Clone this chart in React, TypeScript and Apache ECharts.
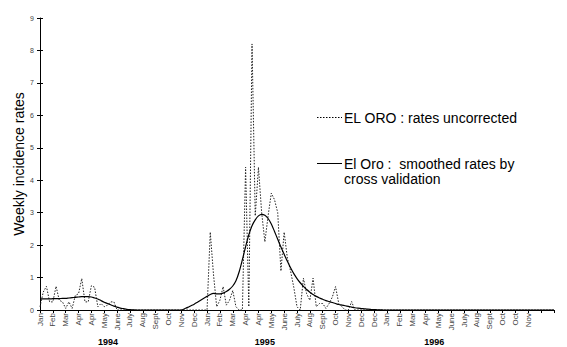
import React, { useEffect, useRef } from "react";
import * as echarts from "echarts";

// tick every 4 weeks, 41 ticks (weeks 0..160)
const tickLabels = [
  "Jan", "Feb", "Mar", "Apr", "Apr", "May", "June", "July", "Aug", "Sept", "Oct", "Nov", "Dec",
  "Jan", "Feb", "Mar", "Apr", "Apr", "May", "June", "July", "Aug", "Sept", "Oct", "Nov", "Dec", "Dec",
  "Jan", "Feb", "Mar", "Apr", "May", "June", "July", "Aug", "Sept", "Oct", "Oct", "Nov", "", "",
];
const yearLabels = ["1994", "1995", "1996"];
const yearCenterWeeks = [21.2, 70, 122.7];

// weekly uncorrected rates (week 0 = Jan 1994)
const uncorrected = [
  0.1, 0.55, 0.73, 0.25, 0.25, 0.73, 0.3, 0.25, 0.05, 0.25,
  0.05, 0.45, 0.5, 0.97, 0.25, 0.25, 0.75, 0.7, 0.1, 0.2,
  0.1, 0.15, 0.25, 0.25, 0, 0, 0, 0, 0, 0,
  0, 0, 0, 0, 0, 0, 0, 0, 0, 0,
  0, 0, 0, 0, 0, 0, 0, 0, 0, 0,
  0, 0, 0, 2.4, 1.1, 0.1, 0.3, 0.72, 0.15, 0.3,
  0.6, 0.1, 0, 0, 4.4, 0.1, 8.2, 2.9, 4.4, 3.0,
  2.1, 2.9, 3.6, 3.4, 3.0, 1.2, 2.4, 1.6, 1.2, 0.7,
  0.1, 0, 0.98, 0.5, 0.3, 0.98, 0.1, 0.2, 0.2, 0.05,
  0.2, 0.4, 0.72, 0.2, 0.1, 0, 0, 0.26, 0, 0,
  0, 0, 0, 0, 0, 0, 0, 0, 0, 0,
  0, 0, 0, 0, 0, 0, 0, 0, 0, 0,
  0, 0, 0, 0, 0, 0, 0, 0, 0, 0,
  0, 0, 0, 0, 0, 0, 0, 0, 0, 0,
  0, 0, 0, 0, 0, 0, 0, 0, 0, 0,
  0, 0, 0, 0, 0, 0, 0, 0, 0, 0,
  0,
];

// smoothed rates by cross validation
const smoothed = [
  0.34, 0.34, 0.34, 0.34, 0.35, 0.35, 0.35, 0.36, 0.36, 0.37,
  0.38, 0.39, 0.40, 0.41, 0.41, 0.41, 0.40, 0.37, 0.34, 0.29,
  0.24, 0.20, 0.16, 0.12, 0.09, 0.06, 0.04, 0.02, 0.01, 0.005,
  0, 0, 0, 0, 0, 0, 0, 0, 0, 0,
  0, 0, 0, 0, 0, 0.04, 0.08, 0.13, 0.18, 0.24,
  0.30, 0.36, 0.42, 0.48, 0.51, 0.50, 0.50, 0.52, 0.57, 0.64,
  0.74, 0.90, 1.18, 1.55, 1.95, 2.32, 2.6, 2.78, 2.9, 2.95,
  2.92, 2.82, 2.65, 2.42, 2.18, 1.94, 1.72, 1.5, 1.3, 1.12,
  0.97, 0.84, 0.73, 0.63, 0.55, 0.48, 0.42, 0.37, 0.33, 0.29,
  0.26, 0.23, 0.2, 0.17, 0.15, 0.13, 0.11, 0.09, 0.07, 0.055,
  0.045, 0.035, 0.025, 0.018, 0.012, 0.007, 0.003, 0, 0, 0,
  0, 0, 0, 0, 0, 0, 0, 0, 0, 0,
  0, 0, 0, 0, 0, 0, 0, 0, 0, 0,
  0, 0, 0, 0, 0, 0, 0, 0, 0, 0,
  0, 0, 0, 0, 0, 0, 0, 0, 0, 0,
  0, 0, 0, 0, 0, 0, 0, 0, 0, 0,
  0,
];

const legendNames = ["EL ORO : rates uncorrected", "El Oro :  smoothed rates by\ncross validation"];

const FONT = "'Liberation Sans', Arial, sans-serif";

export default function App() {
  const ref = useRef<HTMLDivElement>(null);
  useEffect(() => {
    if (!ref.current) return;
    document.body.style.margin = "0";
    const chart = echarts.init(ref.current, undefined, { renderer: "svg" });
    const option: any = {
      animation: false,
      backgroundColor: "#fff",
      grid: { left: 40, right: 13, top: 18, bottom: 37, containLabel: false },
      xAxis: {
        type: "value",
        min: 0,
        max: 160,
        interval: 4,
        axisLine: { show: true, lineStyle: { color: "#000", width: 1 } },
        axisTick: { show: true, length: 3, lineStyle: { color: "#000" } },
        splitLine: { show: false },
        axisLabel: {
          rotate: 90,
          margin: 3,
          fontSize: 8,
          color: "#444",
          fontFamily: FONT,
          formatter: (v: number) => tickLabels[Math.round(v / 4)] ?? "",
        },
      },
      yAxis: [
        {
          type: "value",
          min: 0,
          max: 9,
          interval: 1,
          name: "Weekly incidence rates",
          nameLocation: "middle",
          nameGap: 14,
          nameMoveOverlap: false,
          nameTextStyle: { fontSize: 14, color: "#000", fontFamily: FONT },
          axisLine: { show: true, lineStyle: { color: "#000", width: 1 } },
          axisTick: { show: true, length: 3, lineStyle: { color: "#000" } },
          splitLine: { show: false },
          axisLabel: { fontSize: 7, color: "#444", margin: 6, fontFamily: FONT },
        },
        {
          type: "value",
          min: 0,
          max: 9,
          interval: 1,
          position: "left",
          axisLine: { show: false },
          axisTick: { show: true, inside: true, length: 3, lineStyle: { color: "#000" } },
          splitLine: { show: false },
          axisLabel: { show: false },
        },
      ],
      series: [
        {
          name: legendNames[0],
          type: "line",
          showSymbol: false,
          symbol: "none",
          data: uncorrected.map((v, i) => [i, v]),
          lineStyle: { color: "#222", width: 1, type: [1.5, 1.5] },
          z: 2,
        },
        {
          name: legendNames[1],
          type: "line",
          showSymbol: false,
          symbol: "none",
          smooth: 0.3,
          data: smoothed.map((v, i) => [i, v]),
          lineStyle: { color: "#000", width: 1.2 },
          z: 3,
        },
      ],
    };
    chart.setOption(option);

    const graphic: any[] = [];
    yearLabels.forEach((y, i) => {
      const px = chart.convertToPixel({ xAxisIndex: 0 }, yearCenterWeeks[i]) as number;
      graphic.push({
        type: "text",
        x: px,
        y: 342,
        style: {
          text: y,
          font: `bold 9px ${FONT}`,
          fill: "#000",
          align: "center",
          verticalAlign: "middle",
        },
      });
    });
    graphic.push({
      type: "line",
      shape: { x1: 317, y1: 117.5, x2: 342, y2: 117.5 },
      style: { stroke: "#000", lineWidth: 1, lineDash: [1.5, 1.5] },
    });
    graphic.push({
      type: "text",
      x: 344,
      y: 117.5,
      style: { text: legendNames[0], font: `14px ${FONT}`, fill: "#000", verticalAlign: "middle" },
    });
    graphic.push({
      type: "line",
      shape: { x1: 317, y1: 163.5, x2: 342, y2: 163.5 },
      style: { stroke: "#000", lineWidth: 1 },
    });
    graphic.push({
      type: "text",
      x: 344,
      y: 156,
      style: {
        text: legendNames[1],
        font: `14px ${FONT}`,
        fill: "#000",
        verticalAlign: "top",
        lineHeight: 15,
      },
    });
    chart.setOption({ graphic });

    return () => chart.dispose();
  }, []);
  return <div ref={ref} style={{ width: 567, height: 347 }} />;
}
